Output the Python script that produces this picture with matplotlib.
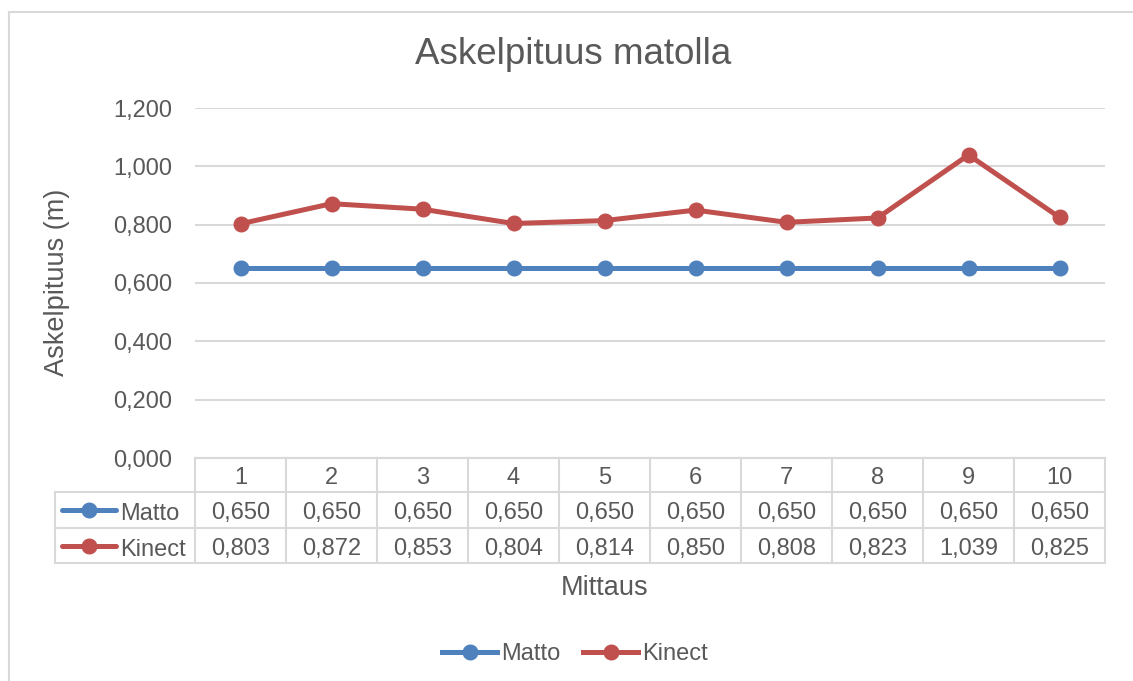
import matplotlib
matplotlib.use("Agg")
import matplotlib.pyplot as plt
from matplotlib.lines import Line2D
from matplotlib.transforms import blended_transform_factory

categories = ["1", "2", "3", "4", "5", "6", "7", "8", "9", "10"]
matto = [0.650, 0.650, 0.650, 0.650, 0.650, 0.650, 0.650, 0.650, 0.650, 0.650]
kinect = [0.803, 0.872, 0.853, 0.804, 0.814, 0.850, 0.808, 0.823, 1.039, 0.825]
series_names = ["Matto", "Kinect"]
yticks = [0.0, 0.2, 0.4, 0.6, 0.8, 1.0, 1.2]

BLUE = "#4F81BD"
RED = "#C0504D"
TXT = "#595959"
GRID = "#D9D9D9"
FONT = "Liberation Sans"
FS = 17
FS_AX = 19.5

W, H = 1133, 681
fig = plt.figure(figsize=(W / 100, H / 100), dpi=100)
plt.rcParams['font.family'] = [FONT, 'DejaVu Sans']

left, right, top, bottom = 195, 1105, 108, 458
ax = fig.add_axes([left / W, 1 - bottom / H, (right - left) / W, (bottom - top) / H])

x = list(range(1, len(categories) + 1))
ax.plot(x, matto, color=BLUE, lw=3.6, marker="o", ms=10.5, solid_capstyle="round", zorder=3)
ax.plot(x, kinect, color=RED, lw=3.6, marker="o", ms=10.5, solid_capstyle="round", zorder=3)

ax.set_xlim(0.5, len(categories) + 0.5)
ax.set_ylim(0, 1.2)
ax.set_yticks(yticks)
ax.set_yticklabels([f"{v:.3f}".replace(".", ",") for v in yticks], fontsize=FS, color=TXT)
ax.tick_params(axis="y", length=0, pad=23 * 0.72)
ax.set_xticks([])
for s in ax.spines.values():
    s.set_visible(False)
ax.yaxis.grid(True, color=GRID, lw=1.5)
ax.set_axisbelow(True)

# Data table
tr = blended_transform_factory(ax.transData, ax.transAxes)
hpx = bottom - top
upx = (right - left) / len(categories)
def yf(p):
    return -(p - bottom) / hpx
def xd(p):
    return 0.5 + (p - left) / upx

rows_y = [458, 492, 528, 563]
tab_left = xd(55)
lkw = dict(color=GRID, lw=1.5, transform=tr, clip_on=False)
ax.plot([0.5, len(categories) + 0.5], [yf(rows_y[0])] * 2, **lkw)
for ry in rows_y[1:]:
    ax.plot([tab_left, len(categories) + 0.5], [yf(ry)] * 2, **lkw)
for i in range(len(categories) + 1):
    ax.plot([i + 0.5, i + 0.5], [yf(rows_y[0]), yf(rows_y[3])], **lkw)
ax.plot([tab_left, tab_left], [yf(rows_y[1]), yf(rows_y[3])], **lkw)

for i, c in enumerate(categories):
    ax.text(i + 1, yf(476), c, ha="center", va="center_baseline", fontsize=FS, color=TXT, transform=tr)
    ax.text(i + 1, yf(511), f"{matto[i]:.3f}".replace(".", ","), ha="center", va="center_baseline",
            fontsize=FS, color=TXT, transform=tr)
    ax.text(i + 1, yf(546), f"{kinect[i]:.3f}".replace(".", ","), ha="center", va="center_baseline",
            fontsize=FS, color=TXT, transform=tr)

for ry, name, col in [(510, series_names[0], BLUE), (546, series_names[1], RED)]:
    ax.plot([xd(62), xd(116)], [yf(ry)] * 2, color=col, lw=3.6, solid_capstyle="round",
            transform=tr, clip_on=False)
    ax.plot([xd(88.5)], [yf(ry)], color=col, marker="o", ms=10.5, transform=tr, clip_on=False)
    ax.text(xd(120), yf(ry + 1), name, ha="left", va="center_baseline", fontsize=FS, color=TXT, transform=tr)

# Axis titles and chart title
fig.text(57 / W, 1 - 282 / H, "Askelpituus (m)", ha="center", va="center", rotation=90,
         fontsize=FS_AX, color=TXT)
fig.text(605 / W, 1 - 588 / H, "Mittaus", ha="center", va="center", fontsize=FS_AX, color=TXT)
fig.text(573 / W, 1 - 55 / H, "Askelpituus matolla", ha="center", va="center", fontsize=26.5, color=TXT)

# Legend
handles = [Line2D([], [], color=BLUE, lw=3.6, marker="o", ms=10.5),
           Line2D([], [], color=RED, lw=3.6, marker="o", ms=10.5)]
leg = fig.legend(handles, series_names, loc="center", bbox_to_anchor=(575 / W, 1 - 654 / H),
                 ncol=2, frameon=False, fontsize=FS, handlelength=2.35, handletextpad=0.17,
                 columnspacing=0.95)
for t in leg.get_texts():
    t.set_color(TXT)

# Chart border
fig.add_artist(Line2D([9 / W, 1], [1 - 12 / H, 1 - 12 / H], color=GRID, lw=1.5, transform=fig.transFigure))
fig.add_artist(Line2D([9 / W, 9 / W], [1 - 12 / H, 0], color=GRID, lw=1.5, transform=fig.transFigure))

fig.savefig("out.png", dpi=100, facecolor="white")
